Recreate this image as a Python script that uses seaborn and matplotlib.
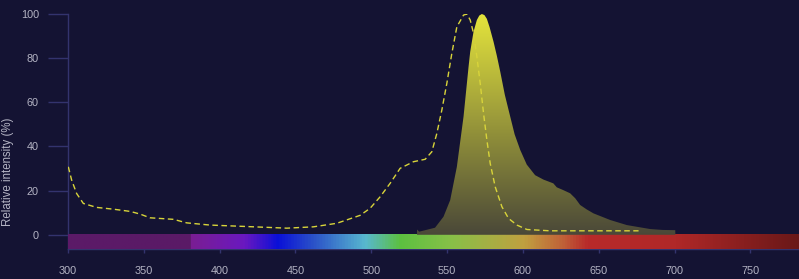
import numpy as np
import pandas as pd
import matplotlib
matplotlib.use("Agg")
import matplotlib.pyplot as plt
import seaborn as sns
from matplotlib.colors import LinearSegmentedColormap

# ---- data ----
ex_wl = [300.2, 302.4, 305.7, 310.1, 318.9, 329.9, 340.9, 347.5, 354.0, 369.5, 378.3,
         393.7, 415.7, 444.3, 461.8, 477.2, 492.6, 499.2, 505.8, 512.4, 519.0, 527.8,
         535.5, 539.9, 543.2, 546.5, 549.8, 553.1, 556.4, 560.8, 563.0, 565.2, 567.4,
         569.6, 571.8, 574.0, 576.2, 578.4, 581.7, 586.1, 590.5, 596.0, 602.6, 617.9, 676.2]
ex_val = [30.8, 24.8, 18.7, 14.2, 12.4, 11.6, 10.6, 9.4, 7.7, 7.0, 5.4,
          4.4, 3.8, 3.0, 3.6, 5.2, 8.8, 12.0, 17.2, 23.3, 30.1, 33.1,
          34.2, 37.6, 45.9, 56.5, 68.6, 82.2, 94.2, 99.5, 100.0, 97.3, 91.3,
          80.7, 68.6, 55.0, 42.9, 32.3, 21.7, 12.7, 7.4, 4.4, 2.4, 1.8, 1.8]

em_wl = [530.0, 530.2, 531.5, 542.0, 547.6, 552.0, 556.4, 560.8, 564.1, 565.2, 567.4,
         569.6, 571.2, 572.9, 574.6, 576.2, 578.0, 580.6, 582.8, 585.0, 588.0, 591.6,
         594.5, 598.2, 602.5, 608.0, 613.5, 620.0, 622.3, 626.7, 631.1, 634.5, 637.7,
         642.0, 646.5, 657.5, 668.5, 683.9, 692.0, 700.4, 700.5]
em_val = [0.0, 2.4, 1.4, 3.2, 8.2, 15.7, 30.8, 53.5, 76.0, 82.9, 92.0,
          97.3, 99.3, 100.0, 99.5, 97.8, 94.0, 87.4, 81.0, 73.9, 63.5, 53.5,
          45.5, 38.4, 31.8, 27.0, 25.0, 23.3, 21.5, 20.2, 18.8, 16.5, 13.5,
          11.5, 9.7, 6.7, 4.4, 2.6, 2.2, 2.1, 0.0]

spec_wl = [300, 379.9, 380, 416, 438, 461, 496, 519, 553, 601, 627, 643, 701, 782]
spec_col = ["#5c1a68", "#5a1a66", "#7a1e92", "#6a18c0", "#0a10d8", "#2a50c8", "#58b8d0",
            "#5cc040", "#88c048", "#c0a040", "#c06038", "#b82a2a", "#b02828", "#6a1818"]

x_ticks = [300, 350, 400, 450, 500, 550, 600, 650, 700, 750]
y_ticks = [0, 20, 40, 60, 80, 100]

BG = "#141333"
AX = "#33336e"
TXT = "#b4b4c4"

sns.set_theme(style="white")
plt.rcParams["font.family"] = ["Liberation Sans", "DejaVu Sans"]

fig = plt.figure(figsize=(7.99, 2.79), dpi=100, facecolor=BG)
ax = fig.add_axes([68 / 799, (279 - 248.7) / 279, 1 - 68 / 799, (248.7 - 14) / 279])
ax.set_facecolor(BG)

XMIN, XMAX, YMIN, YMAX = 300, 782, -6.3, 100
ax.set_xlim(XMIN, XMAX)
ax.set_ylim(YMIN, YMAX)

# spectrum bar
pos = [(w - XMIN) / (XMAX - XMIN) for w in spec_wl]
cmap = LinearSegmentedColormap.from_list("spec", list(zip(pos, spec_col)))
grad = np.linspace(0, 1, 1000)[None, :]
ax.imshow(grad, cmap=cmap, aspect="auto", extent=(XMIN, XMAX, YMIN, 0.3),
          interpolation="bilinear", zorder=1)

# emission filled area with vertical gradient
poly = ax.fill_between(em_wl, 0, em_val, color="none", lw=0, zorder=2)
gcmap = LinearSegmentedColormap.from_list("em", ["#4a4838", "#e4e43c"])
vgrad = np.linspace(0, 1, 256)[:, None]
im = ax.imshow(vgrad, cmap=gcmap, aspect="auto", origin="lower",
               extent=(min(em_wl), max(em_wl), 0, 100), zorder=2,
               interpolation="bilinear")
path = poly.get_paths()[0]
im.set_clip_path(path, transform=ax.transData)

# excitation dashed line
df = pd.DataFrame({"wl": ex_wl, "val": ex_val})
sns.lineplot(data=df, x="wl", y="val", ax=ax, color="#d8d43a", lw=1.0,
             dashes=False, zorder=3)
ax.lines[-1].set_dashes((4, 2.5))

ax.set_xlim(XMIN, XMAX)
ax.set_ylim(YMIN, YMAX)
ax.set_xticks(x_ticks)
ax.set_yticks(y_ticks)
ax.set_xlabel("")
ax.set_ylabel("Relative intensity (%)", color=TXT, fontsize=8.3)
ax.yaxis.set_label_coords((14 - 68) / 731, (248.7 - 171.5) / 234.7)

for s in ["top", "right"]:
    ax.spines[s].set_visible(False)
for s in ["left", "bottom"]:
    ax.spines[s].set_color(AX)
    ax.spines[s].set_linewidth(1.0)
    ax.spines[s].set_zorder(0.5)

ax.tick_params(axis="y", length=14.4, width=1.0, color=AX, colors=TXT,
               labelsize=7.8, pad=6.5, left=True)
ax.tick_params(axis="x", length=3.2, width=1.0, color=AX, colors=TXT,
               labelsize=7.8, pad=9.2, bottom=True)
for t in ax.get_xticklabels() + ax.get_yticklabels():
    t.set_color(TXT)
ax.tick_params(axis="both", color=AX)

fig.savefig("out.png", dpi=100, facecolor=BG)
